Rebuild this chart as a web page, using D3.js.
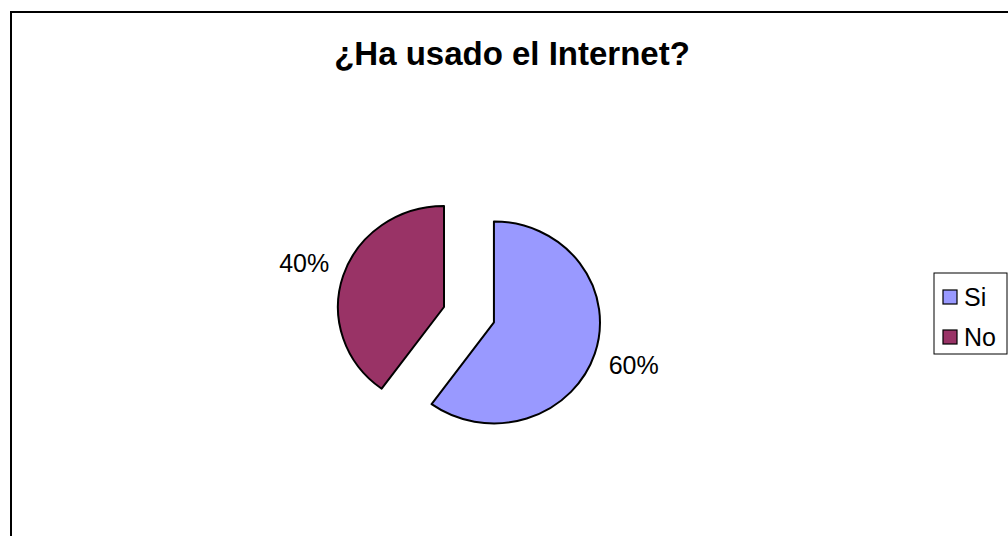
<!DOCTYPE html>
<html>
<head>
<meta charset="utf-8">
<script src="https://cdn.jsdelivr.net/npm/d3@7"></script>
<style>
  body { margin: 0; background: white; }
  text { font-family: "Liberation Sans", Arial, sans-serif; }
</style>
</head>
<body>
<div id="container"></div>
<script>
var w = 1008;
var h = 536;

// data
var categories = ["Si", "No"];
var values = [60, 40];
var colors = ["#9999FF", "#993366"];
var title = "¿Ha usado el Internet?";

var svg = d3.select("div#container").append("svg")
    .attr("width", w).attr("height", h)
    .style("display", "block")
    .style("background-color", "white");

// chart frame (runs off the right and bottom edge)
svg.append("rect")
    .attr("x", 11).attr("y", 12)
    .attr("width", w + 20).attr("height", h + 20)
    .attr("fill", "none").attr("stroke", "#000").attr("stroke-width", 2);

svg.append("text")
    .attr("x", 512).attr("y", 65)
    .attr("text-anchor", "middle")
    .attr("font-weight", "bold")
    .attr("font-size", 33)
    .text(title);

var cx = 444, cy = 307;
var r = 101, sx = 1.05;
var explode = [50, 0];

var pie = d3.pie().sort(null).value(function(d) { return d; });
var arcs = pie(values);
var arc = d3.arc().innerRadius(0).outerRadius(r);

function mid(d) { return (d.startAngle + d.endAngle) / 2; }
function off(d, i, dist) {
  var a = mid(d);
  return [Math.sin(a) * dist * sx, -Math.cos(a) * dist];
}

var g = svg.append("g");
g.selectAll("path")
  .data(arcs)
  .enter().append("path")
    .attr("transform", function(d, i) {
      var o = off(d, i, explode[i]);
      return "translate(" + (cx + o[0]) + "," + (cy + o[1]) + ") scale(" + sx + ",1)";
    })
    .attr("d", arc)
    .attr("fill", function(d, i) { return colors[i]; })
    .attr("stroke", "#000")
    .attr("stroke-width", 2)
    .attr("stroke-linejoin", "round")
    .attr("vector-effect", "non-scaling-stroke");

g.selectAll("text")
  .data(arcs)
  .enter().append("text")
    .attr("x", function(d, i) { return cx + off(d, i, explode[i] + 140)[0]; })
    .attr("y", function(d, i) { return cy + off(d, i, explode[i] + 140)[1]; })
    .attr("dy", "0.35em")
    .attr("text-anchor", "middle")
    .attr("font-size", 25)
    .text(function(d) { return d3.format(".0%")(d.data / d3.sum(values)); });

// legend
var lg = svg.append("g").attr("transform", "translate(934,273)");
lg.append("rect")
    .attr("width", 73).attr("height", 81)
    .attr("fill", "white").attr("stroke", "#000").attr("stroke-width", 1);

var ly = d3.scalePoint().domain(categories).range([24, 64]);
var item = lg.selectAll("g.item")
  .data(categories)
  .enter().append("g")
    .attr("class", "item")
    .attr("transform", function(d) { return "translate(0," + ly(d) + ")"; });

item.append("rect")
    .attr("x", 9).attr("y", -7)
    .attr("width", 14).attr("height", 14)
    .attr("fill", function(d, i) { return colors[i]; })
    .attr("stroke", "#000").attr("stroke-width", 1.2);

item.append("text")
    .attr("x", 30).attr("y", 0)
    .attr("dy", "0.35em")
    .attr("font-size", 25)
    .text(function(d) { return d; });
</script>
</body>
</html>
